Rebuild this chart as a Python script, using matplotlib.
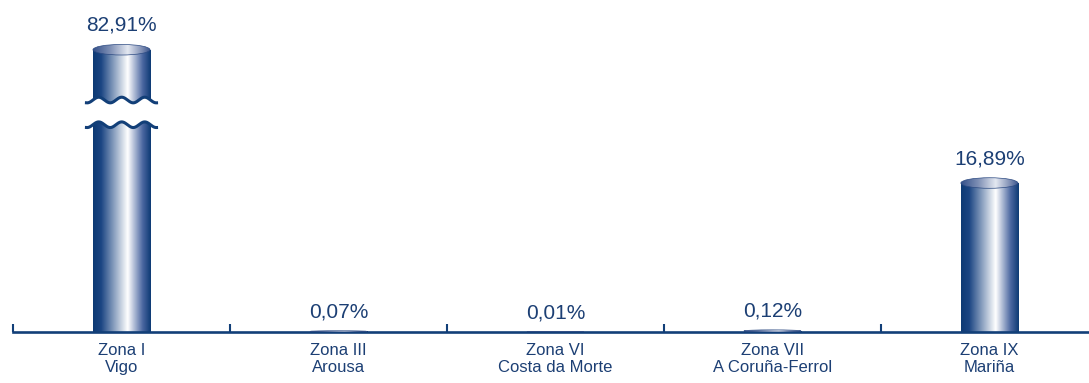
import numpy as np
import matplotlib
matplotlib.use("Agg")
import matplotlib.pyplot as plt
from matplotlib.colors import LinearSegmentedColormap
from matplotlib.patches import Rectangle, Ellipse

# data
zones = ["Zona I\nVigo", "Zona III\nArousa", "Zona VI\nCosta da Morte",
         "Zona VII\nA Coruña-Ferrol", "Zona IX\nMariña"]
shares = [82.91, 0.07, 0.01, 0.12, 16.89]
share_labels = ["82,91%", "0,07%", "0,01%", "0,12%", "16,89%"]

NAVY = "#123f78"
TXT = "#1c3f74"

# broken axis: above BREAK_FROM the values are squeezed
BREAK_FROM = 23.5
BREAK_GAP = 2.8
SQUEEZE = 0.096

def shown(v):
    if v <= BREAK_FROM:
        return v
    return BREAK_FROM + BREAK_GAP + (v - BREAK_FROM) * SQUEEZE

plt.rcParams['font.family'] = ['Liberation Sans', 'DejaVu Sans']

fig = plt.figure(figsize=(10.89, 3.83), dpi=100)
ax = fig.add_axes([13/1089, 51/383, 1 - 13/1089, 332/383])

body_cmap = LinearSegmentedColormap.from_list(
    "body", [(0, "#0d3a74"), (0.14, "#1b4583"), (0.6, "#ffffff"),
             (0.86, "#4a66a0"), (1, "#0d3a74")])
top_cmap = LinearSegmentedColormap.from_list(
    "top", [(0, "#34508a"), (0.3, "#7f90b5"), (0.6, "#e4e8f1"),
            (0.85, "#7d8db3"), (1, "#34508a")])
grad = np.linspace(0, 1, 256).reshape(1, -1)

bw = 0.263
ell_h = 1.2

for i, v in enumerate(shares):
    h = shown(v)
    x0, x1 = i - bw/2, i + bw/2
    rect = Rectangle((x0, 0), bw, h, transform=ax.transData)
    im = ax.imshow(grad, cmap=body_cmap, extent=[x0, x1, 0, h],
                   aspect='auto', zorder=2)
    im.set_clip_path(rect)
    eh = min(ell_h, 2 * h)
    ell = Ellipse((i, h), bw, eh, facecolor='none', edgecolor="#2c4a82",
                  lw=0.5, zorder=4)
    ax.add_patch(ell)
    im2 = ax.imshow(grad, cmap=top_cmap, extent=[x0, x1, h - eh/2, h + eh/2],
                    aspect='auto', zorder=3.5)
    im2.set_clip_path(ell)
    ax.annotate(share_labels[i], (i, h + eh/2), xytext=(0, 7),
                textcoords='offset points', ha='center', va='bottom',
                fontsize=15, color=TXT)

    # wavy break for squeezed bars
    if v > BREAK_FROM:
        xs = np.linspace(x0 - 0.03, x1 + 0.03, 200)
        wave = 0.32 * np.sin(2 * np.pi * (xs - x0) / 0.106)
        lo = BREAK_FROM + wave
        hi = BREAK_FROM + BREAK_GAP + wave
        ax.fill_between(xs, lo, hi, color='white', zorder=5, lw=0)
        ax.plot(xs, lo, color=NAVY, lw=2.2, zorder=6)
        ax.plot(xs, hi, color=NAVY, lw=2.2, zorder=6)

ax.set_xlim(-0.5, 4.459)
ax.set_ylim(0, 37.64)

for s in ['top', 'right', 'left']:
    ax.spines[s].set_visible(False)
ax.spines['bottom'].set_color(NAVY)
ax.spines['bottom'].set_linewidth(1.9)
ax.spines['bottom'].set_zorder(3)
ax.set_yticks([])

ax.set_xticks(np.arange(len(zones)) - 0.5)
ax.set_xticklabels([])
ax.tick_params(axis='x', which='major', direction='in', length=6,
               width=1.5, color=NAVY)
ax.set_xticks(np.arange(len(zones)), minor=True)
ax.set_xticklabels(zones, minor=True, fontsize=12, color=TXT, linespacing=1.15)
ax.tick_params(axis='x', which='minor', length=0, pad=8)
ax.patch.set_visible(False)

fig.savefig("out.png", dpi=100)
